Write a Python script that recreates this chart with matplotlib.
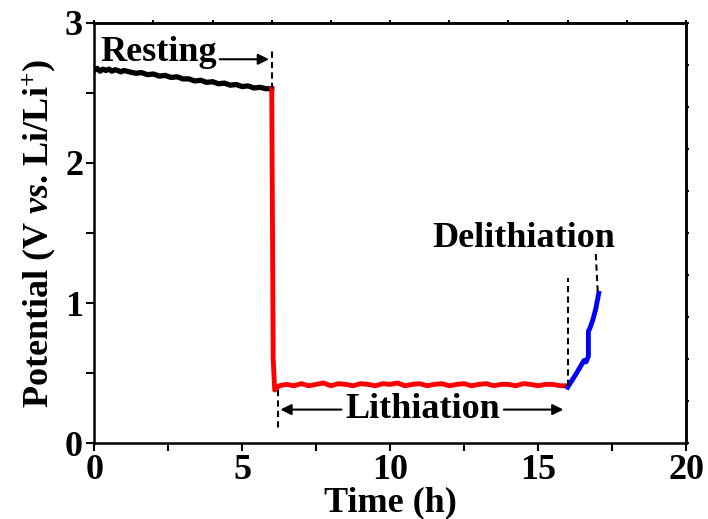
import matplotlib
matplotlib.use("Agg")
import matplotlib.pyplot as plt
import numpy as np

# Resting (black)
rest_t = [0.0, 0.1, 0.2, 0.3, 0.4, 0.5, 0.6, 0.7, 0.8, 0.9, 1.0, 1.2, 1.4, 1.6, 1.8, 2.0, 2.2, 2.4, 2.6, 2.8,
          3.0, 3.2, 3.4, 3.6, 3.8, 4.0, 4.2, 4.4, 4.6, 4.8, 5.0, 5.2, 5.4, 5.6, 5.8, 6.0]
rest_v = [2.66, 2.675, 2.655, 2.67, 2.66, 2.67, 2.655, 2.665, 2.66, 2.65, 2.66, 2.65, 2.64, 2.645, 2.63, 2.635, 2.62, 2.625, 2.61, 2.615,
          2.60, 2.60, 2.585, 2.59, 2.575, 2.58, 2.565, 2.57, 2.555, 2.56, 2.545, 2.55, 2.535, 2.54, 2.53, 2.53]

# Lithiation (red)
lith_t = [6.0, 6.05, 6.1, 6.25, 6.5, 6.75, 7.0, 7.25, 7.5, 7.75, 8.0, 8.25, 8.5, 8.75, 9.0,
          9.25, 9.5, 9.75, 10.0, 10.25, 10.5, 10.75, 11.0, 11.25, 11.5, 11.75, 12.0, 12.25,
          12.5, 12.75, 13.0, 13.25, 13.5, 13.75, 14.0, 14.25, 14.5, 14.75, 15.0, 15.25,
          15.5, 15.75, 16.0]
lith_v = [2.53, 0.60, 0.38, 0.41, 0.42, 0.41, 0.425, 0.41, 0.42, 0.43, 0.41, 0.425, 0.42, 0.41, 0.425,
          0.42, 0.41, 0.425, 0.42, 0.43, 0.41, 0.42, 0.425, 0.41, 0.42, 0.425, 0.41, 0.42,
          0.425, 0.41, 0.42, 0.425, 0.41, 0.42, 0.42, 0.41, 0.425, 0.42, 0.41, 0.42,
          0.42, 0.41, 0.41]

# Delithiation (blue)
delith_t = [16.0, 16.3, 16.55, 16.62, 16.7, 16.7, 16.75, 16.85, 16.95, 17.05]
delith_v = [0.40, 0.50, 0.59, 0.58, 0.62, 0.80, 0.82, 0.88, 0.96, 1.07]

plt.rcParams['font.family'] = 'Liberation Serif'
plt.rcParams['font.weight'] = 'bold'
plt.rcParams['mathtext.fontset'] = 'custom'
plt.rcParams['mathtext.rm'] = 'Liberation Serif:bold'
plt.rcParams['mathtext.it'] = 'Liberation Serif:italic:bold'
plt.rcParams['mathtext.bf'] = 'Liberation Serif:bold'

fig = plt.figure(figsize=(7.08, 5.19), dpi=100)
ax = fig.add_axes([0.133, 0.146, 0.836, 0.81])

ax.plot(rest_t, rest_v, color='black', lw=3.8)
ax.plot(lith_t, lith_v, color='red', lw=3.5)
ax.plot(delith_t, delith_v, color='blue', lw=3.5)

# dashed markers
ax.plot([6.0, 6.0], [2.53, 2.82], 'k--', lw=1.5, dashes=(3, 2))
ax.plot([6.2, 6.2], [0.38, 0.11], 'k--', lw=1.5, dashes=(3, 2))
ax.plot([16.0, 16.0], [0.41, 1.18], 'k--', lw=1.5, dashes=(3, 2))
ax.plot([16.95, 17.02], [1.35, 1.06], 'k--', lw=1.5, dashes=(3, 2))

# annotations
ax.text(0.2, 2.79, 'Resting', fontsize=26, fontweight='bold', va='center', ha='left')
ax.annotate('', xy=(6.0, 2.74), xytext=(4.15, 2.74),
            arrowprops=dict(arrowstyle='-|>', color='black', lw=1.5, mutation_scale=16))
ax.text(11.1, 0.24, 'Lithiation', fontsize=26, fontweight='bold', va='center', ha='center')
ax.annotate('', xy=(6.2, 0.24), xytext=(8.45, 0.24),
            arrowprops=dict(arrowstyle='-|>', color='black', lw=1.5, mutation_scale=16))
ax.annotate('', xy=(15.95, 0.24), xytext=(13.75, 0.24),
            arrowprops=dict(arrowstyle='-|>', color='black', lw=1.5, mutation_scale=16))
ax.text(14.5, 1.46, 'Delithiation', fontsize=26, fontweight='bold', va='center', ha='center')

ax.set_xlim(0, 20)
ax.set_ylim(0, 3)
ax.set_xticks([0, 5, 10, 15, 20])
ax.set_xticks([2.5, 7.5, 12.5, 17.5], minor=True)
ax.set_yticks([0, 1, 2, 3])
ax.set_yticks([0.5, 1.5, 2.5], minor=True)
ax.tick_params(which='both', direction='out', length=6, width=1.5, labelsize=26, pad=2)
ax.tick_params(top=False, right=False)
for sp in ax.spines.values():
    sp.set_linewidth(1.8)

# tiny ticks on top and right
top = ax.secondary_xaxis('top')
top.set_xticks(np.arange(0, 21, 2))
top.tick_params(direction='out', length=2, width=1.5, labeltop=False)
right = ax.secondary_yaxis('right')
right.set_yticks(np.arange(0, 3.01, 0.3))
right.tick_params(direction='out', length=2, width=1.5, labelright=False)
for sec in (top, right):
    for sp in sec.spines.values():
        sp.set_linewidth(1.8)

ax.set_xlabel('Time (h)', fontsize=26, fontweight='bold', labelpad=-1)
ax.set_ylabel(r'Potential (V $\mathit{vs}$. Li/Li$^{+}$)', fontsize=26, fontweight='bold', labelpad=4)

fig.savefig('out.png', dpi=100)
